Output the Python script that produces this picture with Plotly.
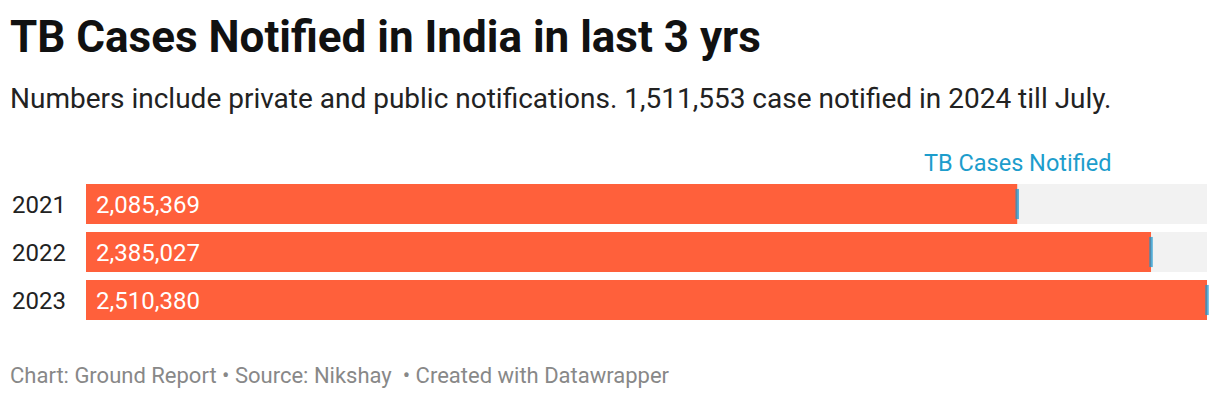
import plotly.graph_objects as go

years = [2021, 2022, 2023]
cases = [2085369, 2385027, 2510380]
value_labels = ["2,085,369", "2,385,027", "2,510,380"]
series_name = "TB Cases Notified"
title = "TB Cases Notified in India in last 3 yrs"
subtitle = "Numbers include private and public notifications. 1,511,553 case notified in 2024 till July."
footer = "Chart: Ground Report • Source: Nikshay  • Created with Datawrapper"

W, H = 1220, 398
OFF = 8  # default page body margin
L, R, T, B = 86 - OFF, 21, 180 - OFF, 74 + OFF
plot_h = H - T - B
FONT = "Roboto"
xmax = max(cases)


def py(pixel_y):
    return (H - B - (pixel_y - OFF)) / plot_h


fig = go.Figure()
fig.add_trace(go.Bar(
    y=years, x=[xmax] * len(years), orientation="h",
    marker=dict(color="#f2f2f2", line=dict(width=0)),
    hoverinfo="skip", showlegend=False,
))
fig.add_trace(go.Bar(
    y=years, x=cases, orientation="h",
    marker=dict(color="#ff603b", line=dict(width=0)),
    showlegend=False, name=series_name,
))
fig.add_trace(go.Scatter(
    y=years, x=cases, mode="markers",
    marker=dict(symbol="line-ns", size=21.5,
                line=dict(width=3.5, color="rgba(30,150,205,0.75)")),
    showlegend=False, hoverinfo="skip", cliponaxis=False,
))

ann = []
for yr, lab in zip(years, value_labels):
    ann.append(dict(x=0, y=yr, xref="x", yref="y", text=lab, showarrow=False,
                    xanchor="left", xshift=8, yshift=-1,
                    font=dict(family=FONT, size=24, color="#ffffff")))
    ann.append(dict(x=0, y=yr, xref="paper", yref="y", text=str(yr), showarrow=False,
                    xanchor="left", xshift=-76, yshift=-1,
                    font=dict(family=FONT, size=24, color="#222222")))

ann.append(dict(x=cases[0], y=years[0], xref="x", yref="y", text=series_name,
                showarrow=False, xanchor="center", yanchor="middle", yshift=41,
                font=dict(family=FONT, size=23.5, color="#1d9dcc")))
ann.append(dict(x=0, y=py(37), xref="paper", yref="paper", text="<b>" + title + "</b>",
                showarrow=False, xanchor="left", yanchor="middle", xshift=-78,
                font=dict(family=FONT, size=44, color="#111111")))
ann.append(dict(x=0, y=py(98), xref="paper", yref="paper", text=subtitle,
                showarrow=False, xanchor="left", yanchor="middle", xshift=-78,
                font=dict(family=FONT, size=28, color="#222222")))
ann.append(dict(x=0, y=py(375), xref="paper", yref="paper", text=footer,
                showarrow=False, xanchor="left", yanchor="middle", xshift=-78,
                font=dict(family=FONT, size=22, color="#888888")))

fig.update_layout(
    width=W, height=H,
    margin=dict(l=L, r=R, t=T, b=B, pad=0),
    paper_bgcolor="white", plot_bgcolor="white",
    barmode="overlay", bargap=8 / 48,
    xaxis=dict(range=[0, xmax], visible=False, fixedrange=True),
    yaxis=dict(type="linear", range=[max(years) + 0.5, min(years) - 0.5],
               visible=False, fixedrange=True),
    annotations=ann,
    showlegend=False,
)
fig.write_html("out.html")
